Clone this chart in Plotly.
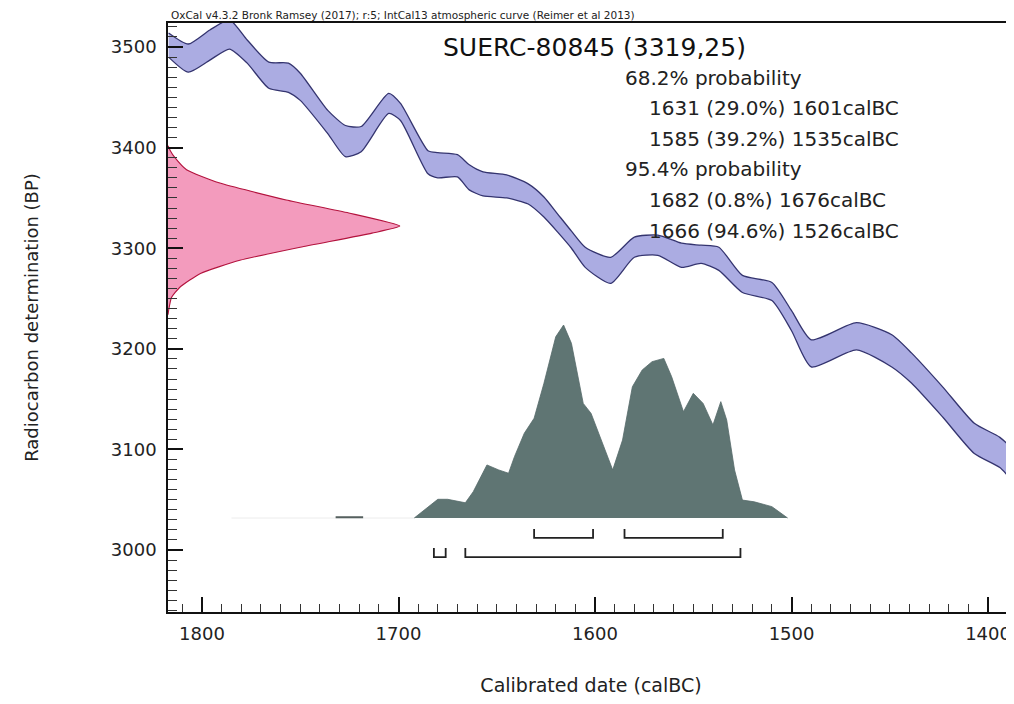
import plotly.graph_objects as go

# ---------------- data ----------------
# IntCal13 calibration band (calBC, upper / lower edge in BP)
cal_bc = [1817, 1807, 1796, 1786, 1777, 1766, 1756, 1750, 1736, 1727, 1719, 1705, 1699,
          1685, 1680, 1670, 1664, 1657, 1645, 1634, 1626, 1619, 1612, 1605, 1592, 1580,
          1568, 1556, 1546, 1537, 1525, 1510, 1500, 1490, 1467, 1449, 1439, 1423, 1407,
          1394, 1386]
curve_upper = [3514, 3503, 3517, 3527, 3507, 3485, 3484, 3474, 3437, 3422, 3421, 3454, 3444,
               3397, 3395, 3393, 3383, 3376, 3373, 3364, 3351, 3334, 3317, 3301, 3291, 3311,
               3313, 3305, 3303, 3301, 3273, 3266, 3238, 3209, 3226, 3214, 3196, 3162, 3126,
               3112, 3096]
curve_lower = [3490, 3475, 3487, 3498, 3484, 3459, 3455, 3447, 3414, 3391, 3396, 3434, 3427,
               3374, 3370, 3371, 3358, 3352, 3350, 3344, 3331, 3316, 3300, 3281, 3265, 3291,
               3293, 3281, 3285, 3278, 3256, 3248, 3218, 3182, 3199, 3182, 3166, 3132, 3096,
               3082, 3067]

meas_bp = [3402, 3397, 3390, 3378, 3365, 3348, 3335, 3322, 3315, 3301, 3288, 3275, 3261,
           3251, 3240, 3234]
meas_density = [0.0, 0.01, 0.03, 0.08, 0.22, 0.51, 0.78, 1.0, 0.88, 0.57, 0.31, 0.14, 0.05,
                0.015, 0.004, 0.0]

# calibrated date distribution (relative density)
post_bc = [1692, 1685, 1680, 1675, 1666, 1662, 1655, 1649, 1644, 1641, 1636, 1631, 1626,
           1620, 1616, 1612, 1606, 1602, 1597, 1591, 1586, 1581, 1576, 1571, 1565, 1561,
           1555, 1550, 1545, 1540, 1536, 1533, 1529, 1525, 1519, 1510, 1502]
post_density = [0.0, 0.059, 0.097, 0.097, 0.079, 0.136, 0.275, 0.249, 0.232, 0.318, 0.439,
                0.517, 0.698, 0.939, 1.0, 0.905, 0.594, 0.542, 0.404, 0.249, 0.404, 0.680,
                0.767, 0.810, 0.827, 0.732, 0.551, 0.646, 0.594, 0.482, 0.603, 0.508, 0.249,
                0.093, 0.084, 0.059, 0.0]
tail_bc = [1732, 1718]

# highest probability ranges
r68_from = [1631, 1585]
r68_to = [1601, 1535]
r68_pct = [29.0, 39.2]
r95_from = [1682, 1666]
r95_to = [1676, 1526]
r95_pct = [0.8, 94.6]

sample_name = "SUERC-80845"
sample_bp = 3319
sample_err = 25

x_ticks = [1800, 1700, 1600, 1500, 1400]
y_ticks = [3000, 3100, 3200, 3300, 3400, 3500]

# ---------------- figure ----------------
OFF = 8                      # default page body margin
W, H = 1014 - OFF, 704 - 2 * OFF
L, T = 168 - OFF, 23 - OFF
R = 0
B = H - (612 - OFF)
PW, PH = W - L - R, H - T - B

FONT = "DejaVu Sans"
fig = go.Figure()

# calibration band
fig.add_trace(go.Scatter(
    x=cal_bc + cal_bc[::-1], y=curve_upper + curve_lower[::-1],
    mode="lines", fill="toself", fillcolor="#abacE2",
    line=dict(color="#34346f", width=1.3, shape="spline", smoothing=0.6),
    hoverinfo="skip", showlegend=False))

# measurement distribution along the y axis
fig.add_trace(go.Scatter(
    x=meas_density, y=meas_bp, xaxis="x2", yaxis="y",
    mode="lines", fill="tozerox", fillcolor="#f39bbd",
    line=dict(color="#b3123d", width=1.1, shape="spline", smoothing=0.5),
    hoverinfo="skip", showlegend=False))

# faint baseline and small tail of the calibrated distribution
fig.add_trace(go.Scatter(
    x=[1785, post_bc[0]], y=[0, 0], xaxis="x", yaxis="y2", mode="lines",
    line=dict(color="#ececec", width=1), hoverinfo="skip", showlegend=False))
fig.add_trace(go.Scatter(
    x=tail_bc, y=[0.004, 0.004], xaxis="x", yaxis="y2", mode="lines",
    line=dict(color="#55605f", width=2), hoverinfo="skip", showlegend=False))

# calibrated distribution
fig.add_trace(go.Scatter(
    x=post_bc, y=post_density, xaxis="x", yaxis="y2",
    mode="lines", fill="tozeroy", fillcolor="#5f7573",
    line=dict(color="#55696a", width=0.8),
    hoverinfo="skip", showlegend=False))

# range brackets
def brackets(starts, ends, ybar, ytip):
    xs, ys = [], []
    for a, b in zip(starts, ends):
        xs += [a, a, b, b, None]
        ys += [ytip, ybar, ybar, ytip, None]
    return xs, ys

bx, by = brackets(r68_from, r68_to, 3012, 3021)
fig.add_trace(go.Scatter(x=bx, y=by, mode="lines", line=dict(color="#222", width=1.8),
                         hoverinfo="skip", showlegend=False))
bx, by = brackets(r95_from, r95_to, 2993, 3002)
fig.add_trace(go.Scatter(x=bx, y=by, mode="lines", line=dict(color="#222", width=1.8),
                         hoverinfo="skip", showlegend=False))

# window pixel -> paper coordinates
def px(xp):
    return (xp - 168) / PW

def py(yp):
    return (612 - yp) / PH

ann = []
ann.append(dict(text="OxCal v4.3.2 Bronk Ramsey (2017); r:5; IntCal13 atmospheric curve (Reimer et al 2013)",
                x=px(169), y=py(15), xanchor="left", yanchor="middle",
                font=dict(family=FONT, size=10.5, color="#222")))
ann.append(dict(text=f"{sample_name} ({sample_bp},{sample_err})",
                x=px(441), y=py(48), xanchor="left", yanchor="middle",
                font=dict(family=FONT, size=25, color="#111")))
lines = [(623, "68.2% probability")]
for a, p, b in zip(r68_from, r68_pct, r68_to):
    lines.append((647, f"{a} ({p:.1f}%) {b}calBC"))
lines.append((623, "95.4% probability"))
for a, p, b in zip(r95_from, r95_pct, r95_to):
    lines.append((647, f"{a} ({p:.1f}%) {b}calBC"))
for i, (xl, t) in enumerate(lines):
    ann.append(dict(text=t, x=px(xl), y=py(78 + 30.5 * i), xanchor="left", yanchor="middle",
                    font=dict(family=FONT, size=20, color="#222")))
for a in ann:
    a.update(xref="paper", yref="paper", showarrow=False)

fig.update_layout(
    width=W, height=H,
    margin=dict(l=L, r=R, t=T, b=B, autoexpand=False),
    paper_bgcolor="white", plot_bgcolor="white",
    annotations=ann,
    xaxis=dict(range=[1817.3, 1386.8], tickvals=x_ticks, ticktext=[str(v) for v in x_ticks],
               automargin=False,
               ticks="inside", ticklen=15, tickwidth=1.5, tickcolor="#111",
               minor=dict(dtick=10, tick0=1800, ticks="inside", ticklen=8, tickcolor="#333", tickwidth=1),
               showline=True, linecolor="#111", linewidth=1.5, mirror=True,
               showgrid=False, zeroline=False, ticklabelstandoff=5,
               tickfont=dict(family=FONT, size=18, color="#222"),
               title=dict(text="Calibrated date (calBC)", standoff=40,
                          font=dict(family=FONT, size=19, color="#222"))),
    yaxis=dict(range=[2938.4, 3523.9], tickvals=y_ticks, ticktext=[str(v) for v in y_ticks],
               automargin=False,
               ticks="inside", ticklen=15, tickwidth=1.5, tickcolor="#111",
               minor=dict(dtick=10, tick0=3000, ticks="inside", ticklen=9, tickcolor="#333", tickwidth=1),
               showline=True, linecolor="#111", linewidth=1.5,
               showgrid=False, zeroline=False, ticklabelstandoff=6,
               tickfont=dict(family=FONT, size=18, color="#222"),
               title=dict(text="Radiocarbon determination (BP)", standoff=68,
                          font=dict(family=FONT, size=18, color="#222"))),
    xaxis2=dict(overlaying="x", anchor="y", range=[0, 3.65], visible=False),
    yaxis2=dict(overlaying="y", anchor="x", range=[-0.487, 2.565], visible=False),
)

fig.write_html("out.html")
